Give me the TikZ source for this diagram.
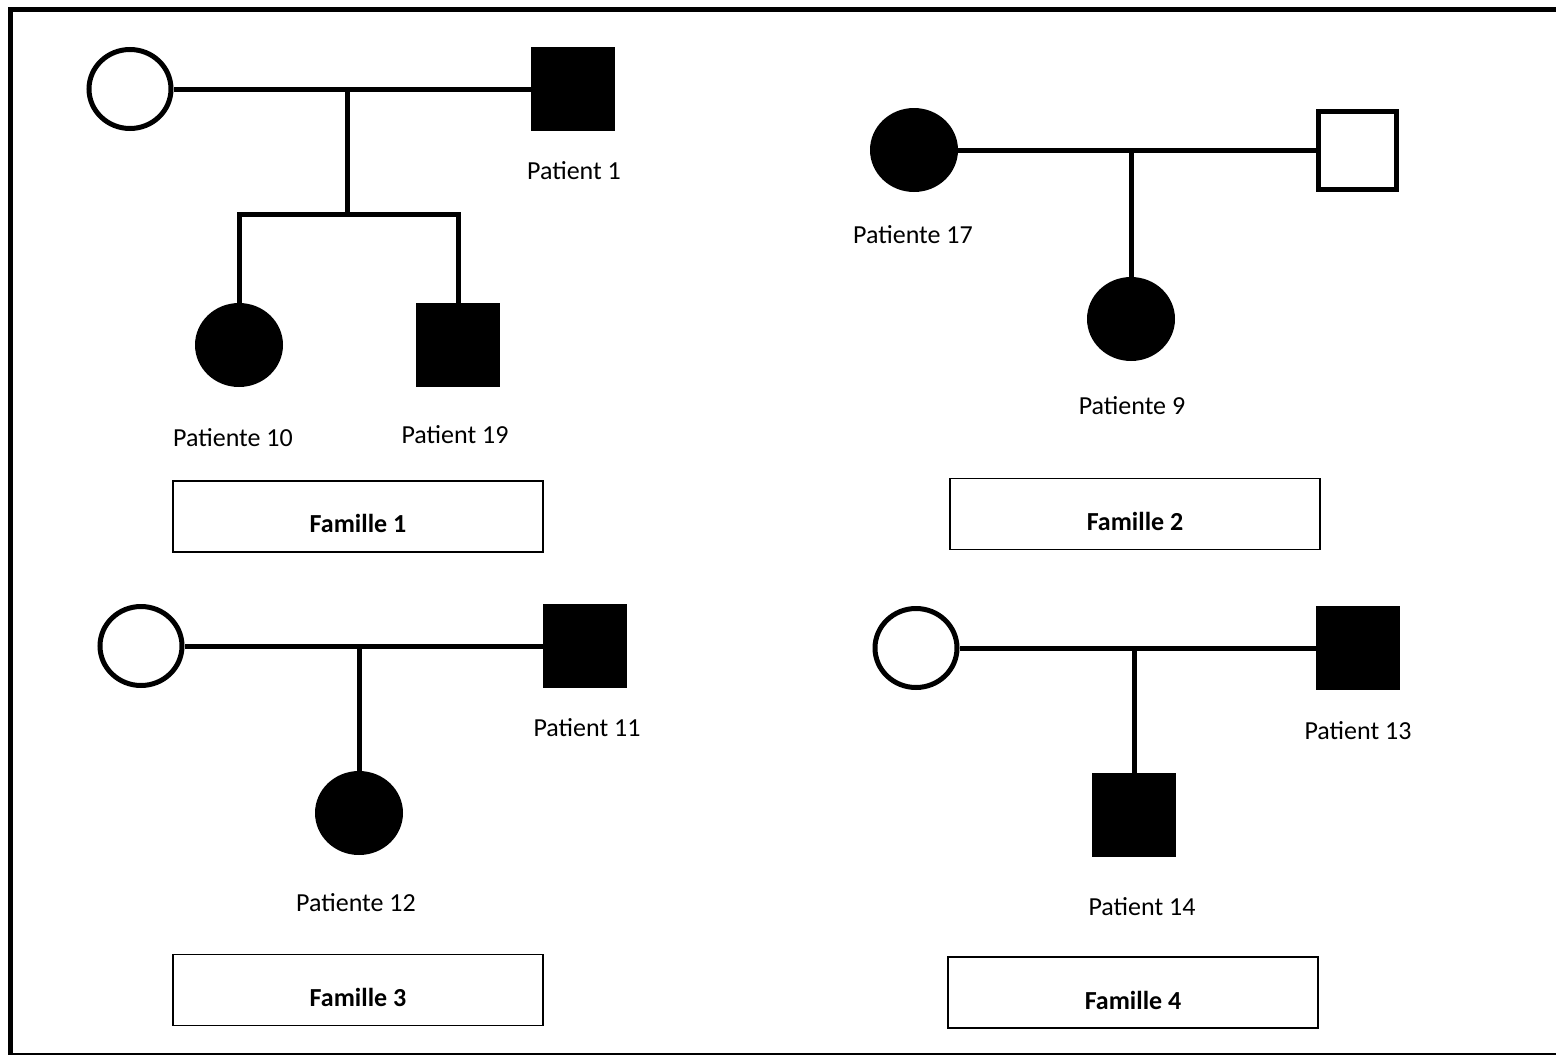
\documentclass[tikz,border=0pt]{standalone}
\usepackage{fontspec}
\setmainfont{Carlito}
\usetikzlibrary{shapes.geometric}
\begin{document}
\begin{tikzpicture}[x=1pt,y=-1pt,
  lw/.style={line width=5pt},
  openF/.style={ellipse,draw,line width=5pt,minimum width=82pt,minimum height=79pt,inner sep=0pt},
  fillF/.style={ellipse,fill=black,minimum width=88pt,minimum height=84pt,inner sep=0pt},
  fillM/.style={rectangle,fill=black,minimum size=84pt,inner sep=0pt},
  openM/.style={rectangle,draw,line width=5pt,minimum size=78pt,inner sep=0pt},
  lab/.style={font=\fontsize{26}{30}\selectfont,inner sep=0pt},
  famtxt/.style={font=\fontsize{26}{30}\selectfont\bfseries,inner sep=0pt},
  fambox/.style={draw,line width=1.8pt,minimum width=370pt,minimum height=71pt,inner sep=0pt}]
\useasboundingbox (0,0) rectangle (1556,1055);
\draw[line width=5pt] (10,9) rectangle (1570,1055);

% Family 1
\node[openF] (f1m) at (130,89) {};
\node[fillM] (f1p) at (573,89) {};
\coordinate (f1mid) at (347,89);
\coordinate (f1sib) at (347,214);
\node[fillF] (f1c1) at (239,345) {};
\node[fillM] (f1c2) at (458,345) {};
\draw[lw] (f1m.east) -- (f1p.west);
\draw[lw] (f1mid) -- (f1sib);
\draw[lw] (f1c1.north) -- (f1c1.north |- f1sib) -- (f1c2.north |- f1sib) -- (f1c2.north);
\node[lab] (l1) at (574,171) {Patient 1};
\node[lab] (l10) at (233,438) {Patiente 10};
\node[lab] (l19) at (455,435) {Patient 19};
\node[fambox] (b1) at (358,516.5) {};
\node[famtxt] (t1) at (358,523) {Famille 1};

% Family 2
\node[fillF] (f2m) at (914,150) {};
\node[openM] (f2p) at (1357,150) {};
\coordinate (f2mid) at (1131,150);
\node[fillF] (f2c) at (1131,319) {};
\draw[lw] (f2m.east) -- (f2p.west);
\draw[lw] (f2mid) -- (f2c.north);
\node[lab] (l17) at (913,235) {Patiente 17};
\node[lab] (l9) at (1132,406) {Patiente 9};
\node[fambox] (b2) at (1135,514) {};
\node[famtxt] (t2) at (1135,521) {Famille 2};

% Family 3
\node[openF] (f3m) at (141,646) {};
\node[fillM] (f3p) at (585,646) {};
\coordinate (f3mid) at (359,646);
\node[fillF] (f3c) at (359,813) {};
\draw[lw] (f3m.east) -- (f3p.west);
\draw[lw] (f3mid) -- (f3c.north);
\node[lab] (l11) at (587,728) {Patient 11};
\node[lab] (l12) at (356,903) {Patiente 12};
\node[fambox] (b3) at (358,990) {};
\node[famtxt] (t3) at (358,997) {Famille 3};

% Family 4
\node[openF] (f4m) at (916,648) {};
\node[fillM] (f4p) at (1358,648) {};
\coordinate (f4mid) at (1134,648);
\node[fillM] (f4c) at (1134,815) {};
\draw[lw] (f4m.east) -- (f4p.west);
\draw[lw] (f4mid) -- (f4c.north);
\node[lab] (l13) at (1358,731) {Patient 13};
\node[lab] (l14) at (1142,907) {Patient 14};
\node[fambox] (b4) at (1133,992.5) {};
\node[famtxt] (t4) at (1133,1000) {Famille 4};
\end{tikzpicture}
\end{document}
